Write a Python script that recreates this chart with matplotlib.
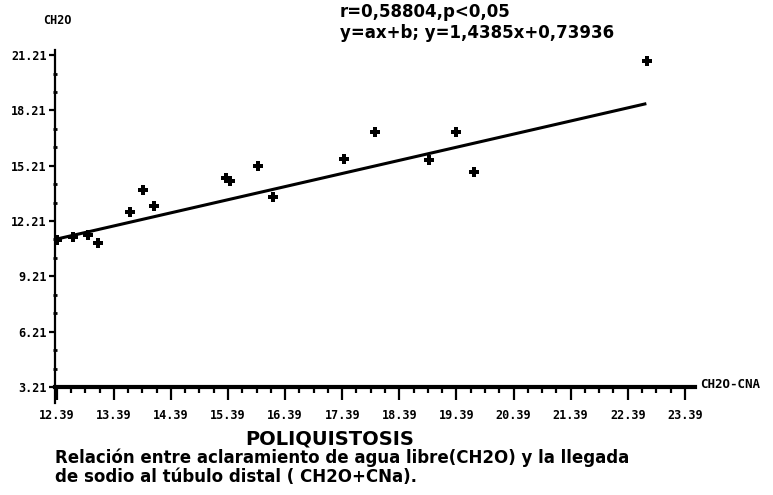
import matplotlib
matplotlib.use('Agg')
import matplotlib.pyplot as plt
import numpy as np
from matplotlib.ticker import MultipleLocator, FixedLocator

# CH2O-CNa (x) vs CH2O (y)
x_vals = [12.40, 12.68, 12.94, 13.11, 13.67, 13.90, 14.10, 15.36, 15.43,
          15.92, 16.18, 17.42, 17.96, 18.91, 19.38, 19.70, 22.73]
y_vals = [11.18, 11.34, 11.45, 11.02, 12.70, 13.89, 13.03, 14.54, 14.38,
          15.19, 13.51, 15.57, 17.04, 15.52, 17.04, 14.87, 20.89]

# regression line ends
line_x = [12.40, 22.69]
line_y = [11.24, 18.56]

x_ticks = [12.39, 13.39, 14.39, 15.39, 16.39, 17.39, 18.39, 19.39, 20.39, 21.39, 22.39, 23.39]
x_labels = ['12.39', '13.39', '14.39', '15.39', '16.39', '17.39',
            '18.39', '19.39', '20.39', '21.39', '22.39', '23.39']
y_ticks = [3.21, 6.21, 9.21, 12.21, 15.21, 18.21, 21.21]
y_labels = ['3.21', '6.21', '9.21', '12.21', '15.21', '18.21', '21.21']

tick_font = dict(family='DejaVu Sans Mono', weight='bold', size=8.5)

fig = plt.figure(figsize=(7.73, 4.95), dpi=100)
ax = fig.add_axes([55 / 773, 92 / 495, 640 / 773, 353 / 495])

ax.plot(line_x, line_y, color='black', lw=2.2)
ax.plot(x_vals, y_vals, 'P', color='black', markersize=7.5, markeredgewidth=0)

ax.set_xlim(12.36, 23.568)
ax.set_ylim(2.342, 21.486)

ax.spines['top'].set_visible(False)
ax.spines['right'].set_visible(False)
ax.spines['bottom'].set_position(('data', 3.21))
ax.spines['bottom'].set_linewidth(3)
ax.spines['left'].set_linewidth(1.6)

ax.xaxis.set_major_locator(FixedLocator(x_ticks))
ax.xaxis.set_minor_locator(FixedLocator(np.arange(x_ticks[0], x_ticks[-1] + 0.01, 0.25)))
ax.set_xticklabels(x_labels, fontdict=tick_font)
ax.tick_params(axis='x', which='major', direction='out', length=9, width=1.6, pad=7)
ax.tick_params(axis='x', which='minor', direction='out', length=4, width=1.6)

ax.yaxis.set_major_locator(FixedLocator(y_ticks))
ax.yaxis.set_minor_locator(MultipleLocator(1.0, offset=0.21))
ax.set_yticklabels(y_labels, fontdict=tick_font)
ax.tick_params(axis='y', which='major', direction='out', length=4, width=1.6, pad=2)
ax.tick_params(axis='y', which='minor', direction='inout', length=3, width=2)

fig.text(57 / 773, 1 - 20 / 495, 'CH2O', ha='center', va='center', **tick_font)
fig.text(700 / 773, 1 - 384 / 495, 'CH2O-CNA', ha='left', va='center',
         family='DejaVu Sans Mono', weight='bold', size=9)

fig.text(340 / 773, 1 - 12 / 495, 'r=0,58804,p<0,05', ha='left', va='center',
         size=12, weight='bold')
fig.text(340 / 773, 1 - 33 / 495, 'y=ax+b; y=1,4385x+0,73936', ha='left', va='center',
         size=12, weight='bold')

fig.text(330 / 773, 1 - 439 / 495, 'POLIQUISTOSIS', ha='center', va='center',
         size=14, weight='bold')
fig.text(55 / 773, 1 - 458 / 495,
         'Relación entre aclaramiento de agua libre(CH2O) y la llegada',
         ha='left', va='center', size=12, weight='bold')
fig.text(55 / 773, 1 - 477 / 495, 'de sodio al túbulo distal ( CH2O+CNa).',
         ha='left', va='center', size=12, weight='bold')

fig.savefig('out.png', dpi=100)
